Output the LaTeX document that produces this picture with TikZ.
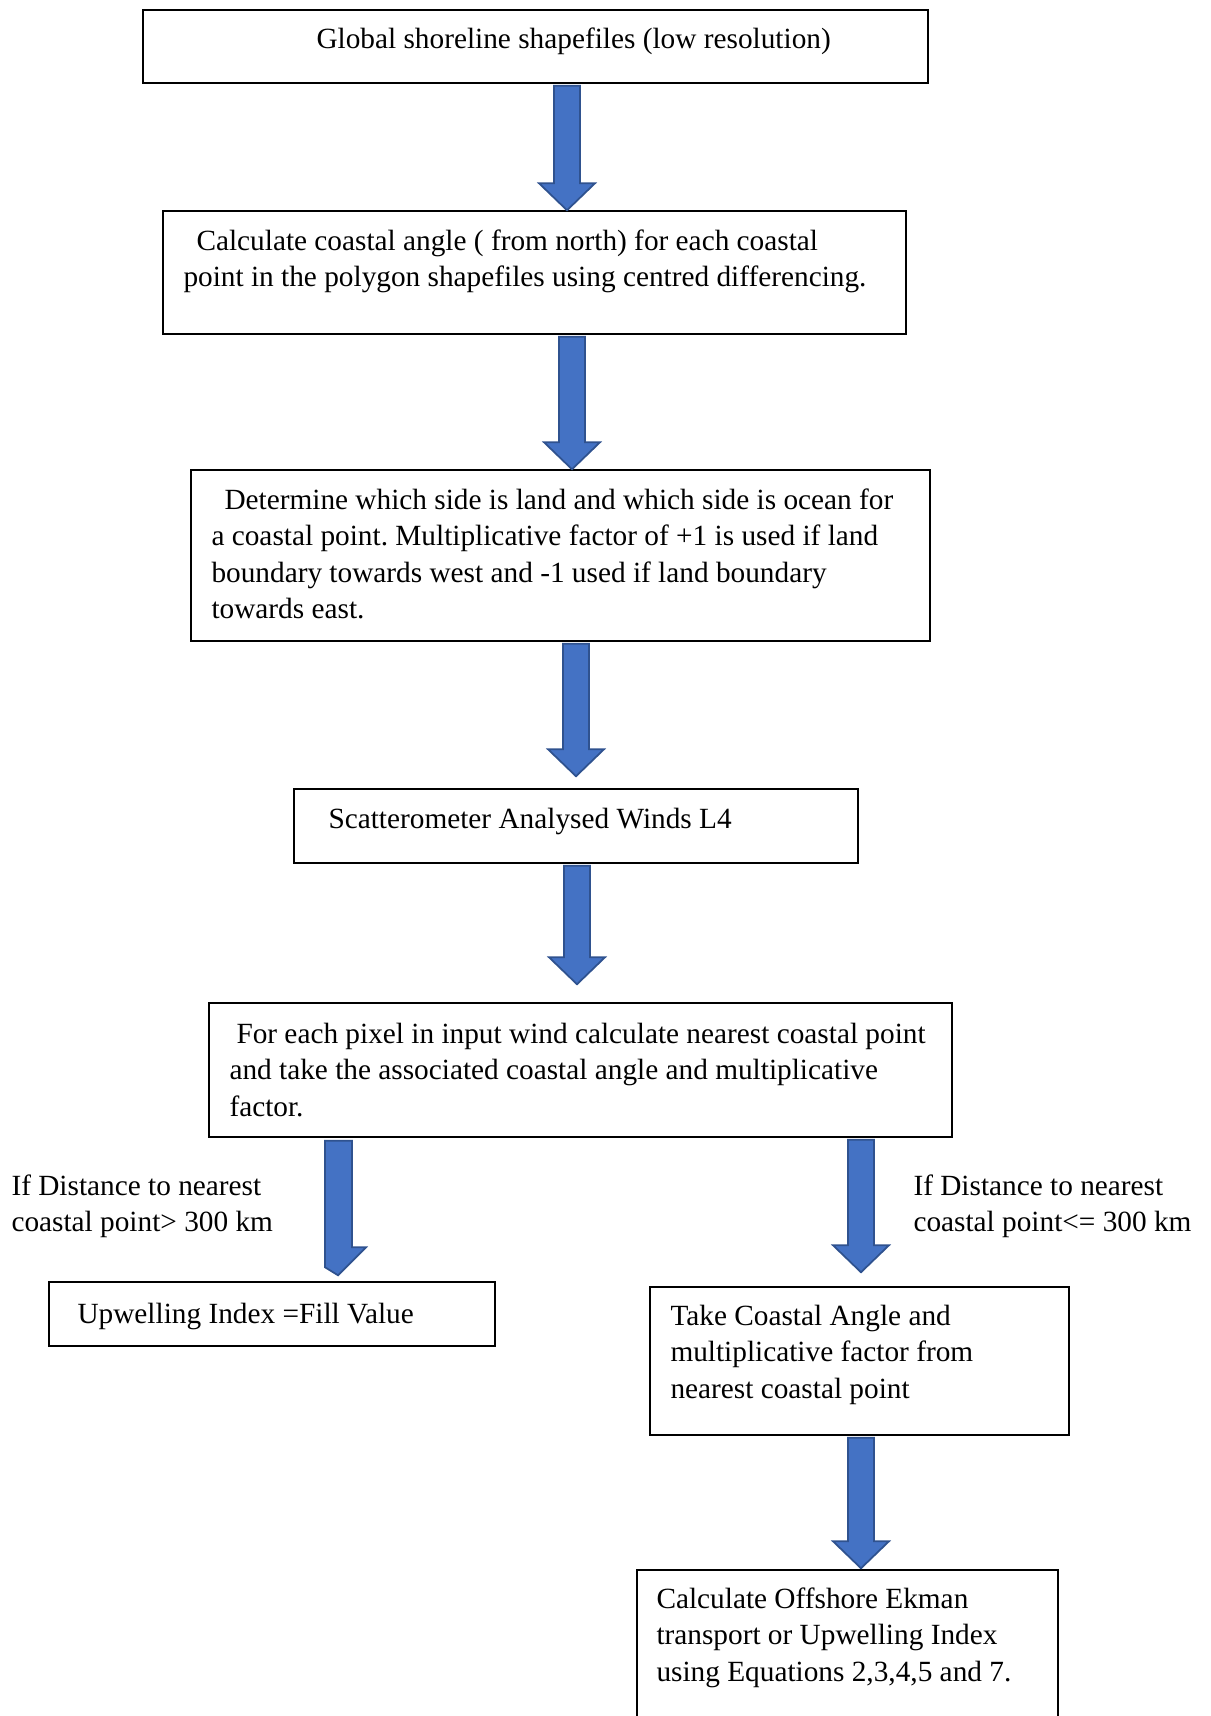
\documentclass[tikz,border=0pt]{standalone}
\usepackage{fontspec}
\setmainfont{Liberation Serif}
\frenchspacing
\usetikzlibrary{calc,fit}
\definecolor{arrowfill}{HTML}{4472C4}
\definecolor{arrowline}{HTML}{2F528F}
\tikzset{
  box/.style={draw=black, line width=0.6pt, inner sep=0pt, fill=white},
  txt/.style={inner sep=0pt, align=left, anchor=base west},
  barrow/.style={fill=arrowfill, draw=arrowline, line width=0.7pt, line join=miter},
}
% #1 from node, #2 to node, #3 x coordinate, #4 gap above target
\newcommand\blockarrow[4]{%
  \draw[barrow]
    ($(#1.south -| #3)+(-13,2)$) -- ($(#1.south -| #3)+(13,2)$)
    -- ($(#2.north -| #3)+(13,-27-#4)$) -- ($(#2.north -| #3)+(28,-27-#4)$)
    -- ($(#2.north -| #3)+(0,-#4)$)
    -- ($(#2.north -| #3)+(-28,-27-#4)$) -- ($(#2.north -| #3)+(-13,-27-#4)$)
    -- cycle;}
\begin{document}
\begin{tikzpicture}[x=0.4pt,y=-0.4pt,font=\fontsize{11.72pt}{14.6pt}\selectfont]
\useasboundingbox (0,0) rectangle (1211,1716);
\clip (0,0) rectangle (1211,1716);

% boxes
\node[box, fit={(143,10) (928,83)}] (b1) {};
\node[box, fit={(163,211) (906,334)}] (b2) {};
\node[box, fit={(191,470) (930,641)}] (b3) {};
\node[box, fit={(294,789) (858,863)}] (b4) {};
\node[box, fit={(209,1003) (952,1137)}] (b5) {};
\node[box, fit={(49,1282) (495,1346)}] (b6) {};
\node[box, fit={(650,1287) (1069,1435)}] (b7) {};
\node[box, fit={(637,1570) (1058,1740)}] (b8) {};

% texts (anchor = baseline of the last line)
\node[txt] (t1) at (316,48) {Global shoreline shapefiles (low resolution)};
\node[txt] (t2) at (183,286.5) {\hspace*{5.2pt}Calculate coastal angle ( from north) for each coastal\\point in the polygon shapefiles using centred differencing.};
\node[txt] (t3) at (211,618.5) {\hspace*{5.2pt}Determine which side is land and which side is ocean for\\a coastal point. Multiplicative factor of +1 is used if land\\boundary towards west and -1 used if land boundary\\towards east.};
\node[txt] (t4) at (328,828) {Scatterometer Analysed Winds L4};
\node[txt] (t5) at (229,1116) {\hspace*{2.8pt}For each pixel in input wind calculate nearest coastal point\\and take the associated coastal angle and multiplicative\\factor.};
\node[txt] (l1) at (11,1231.5) {If Distance to nearest\\coastal point> 300 km};
\node[txt] (t6) at (77,1323) {Upwelling Index =Fill Value};
\node[txt] (l2) at (913,1231.5) {If Distance to nearest\\coastal point<= 300 km};
\node[txt] (t7) at (670,1398) {Take Coastal Angle and\\multiplicative factor from\\nearest coastal point};
\node[txt] (t8) at (656,1681) {Calculate Offshore Ekman\\transport or Upwelling Index\\using Equations 2,3,4,5 and 7.};

% arrow columns
\coordinate (c1) at (567,0);
\coordinate (c2) at (572,0);
\coordinate (c3) at (576,0);
\coordinate (c4) at (577,0);
\coordinate (c5) at (338,0);
\coordinate (c6) at (861,0);

\blockarrow{b1}{b2}{c1}{0}
\blockarrow{b2}{b3}{c2}{0}
\blockarrow{b3}{b4}{c3}{12}
\blockarrow{b4}{b5}{c4}{18}
\blockarrow{b5}{b7}{c6}{14}
\blockarrow{b7}{b8}{c6}{1}
% left, clipped arrow
\draw[barrow]
  ($(b5.south -| c5)+(-13,3)$) -- ($(b5.south -| c5)+(14,3)$)
  -- ($(b6.north -| c5)+(14,-34)$) -- ($(b6.north -| c5)+(28,-34)$)
  -- ($(b6.north -| c5)+(0,-6)$) -- ($(b6.north -| c5)+(-13,-14)$) -- cycle;
\end{tikzpicture}
\end{document}
